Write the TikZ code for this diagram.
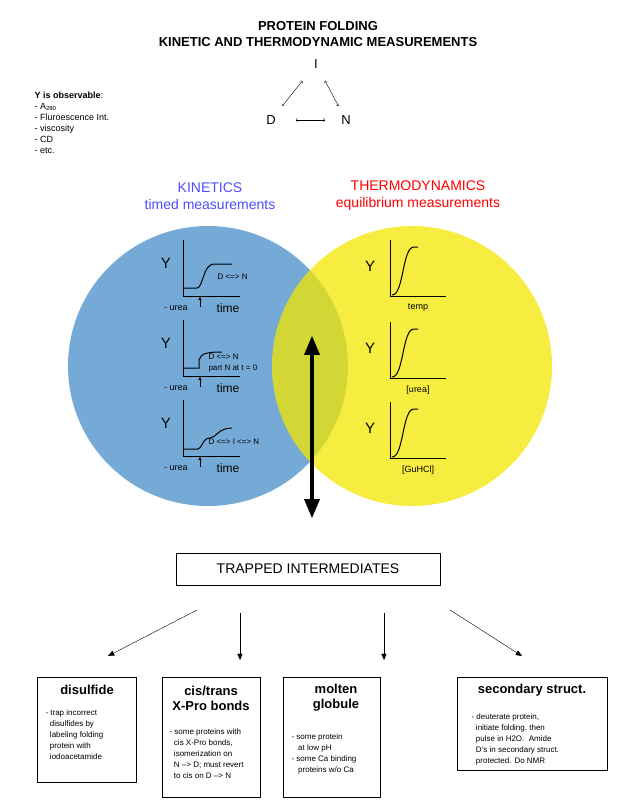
\documentclass[tikz,border=0pt]{standalone}
\usepackage{fontspec}
\setmainfont{Liberation Sans}
\usetikzlibrary{calc}
\usetikzlibrary{positioning}
\usetikzlibrary{arrows}

\begin{document}
\begin{tikzpicture}[
    x = 1pt,
    y = -1pt,
    font = \fontsize{11}{13}\selectfont,
    axisf/.style = {
      line width=1pt
    },
    curvef/.style = {
      line width=1pt
    },
    boxf/.style = {
      rectangle,
      draw=black,
      line width=1pt,
      anchor=north west,
      inner sep=0pt
    },
    small/.style = {
      font=\fontsize{9}{11}\selectfont
    },
    tiny/.style = {
      font=\fontsize{8}{11}\selectfont
    },
    bigY/.style = {
      font=\fontsize{15}{15}\selectfont
    }
  ]
    \useasboundingbox (0,0) rectangle (644,807);

    \node[font=\fontsize{13}{16}\bfseries] (title) at (318,34)
      [align=center] {PROTEIN FOLDING\\KINETIC AND THERMODYNAMIC MEASUREMENTS};

    \node[font=\fontsize{13}{13}\selectfont] (sI) at (316,64) {I};
    \node[font=\fontsize{13}{13}\selectfont] (sD) at (271,120) {D};
    \node[font=\fontsize{13}{13}\selectfont] (sN) at (346,120) {N};
    \draw[<->] ($(sD)!0.33!(sN)$) -- ($(sD)!0.72!(sN)$);
    \draw[<->] ($(sI)!0.3!(sD)$) -- ($(sI)!0.75!(sD)$);
    \draw[<->] ($(sI)!0.3!(sN)$) -- ($(sI)!0.75!(sN)$);

    \node[small, align=left, anchor=north west] (obs) at (31,88)
      {\textbf{Y is observable}:\\- A\textsubscript{280}\\- Fluroescence Int.\\- viscosity\\- CD\\- etc.};

    % circles
    \fill[blue!45!cyan!70!black!60, opacity=0.9] (208,366) circle (140);
    \fill[yellow!90!olive, opacity=0.75] (412,366) circle (140);

    \node[font=\fontsize{14}{17}\selectfont, text=blue!70!white, align=center] (kin) at (210,196)
      {KINETICS\\timed measurements};
    \node[font=\fontsize{14}{17}\selectfont, text=red, align=center] (thermo) at (418,196)
      {THERMODYNAMICS\\equilibrium measurements};

    % kinetic plots
    \foreach \dy/\lab in {0/1, 80/2, 160/3} {
      \begin{scope}[yshift=-\dy]
        \node[bigY] (ky\lab) at (166,263) {Y};
        \draw[axisf] (183,240) -- (183,296) -- (240,296);
        \node[small] (urea\lab) at (176,308) {- urea};
        \node[font=\fontsize{12}{12}\selectfont] (time\lab) at (228,308) {time};
        \draw[-latex] (200,307) -- (200,296);
      \end{scope}
    }
    \draw[curvef] (183,288) -- (197,288) .. controls (203,288) and (203,264) .. (214,264) -- (232,264);
    \node[tiny, anchor=west] (k1) at (214,277) {D <=> N};
    \draw[curvef] (183,368) -- (199,368) -- (199,360) .. controls (201,354) and (205,352) .. (222,352);
    \node[tiny, anchor=west, align=left] (k2) at (205,363) {D <=> N\\part N at t = 0};
    \draw[curvef] (183,449) -- (198,449) .. controls (202,449) and (202,438) .. (210,438)
      .. controls (216,438) and (218,428) .. (232,428);
    \node[tiny, anchor=west] (k3) at (205,442) {D <=> I <=> N};

    % thermodynamic plots
    \foreach \dy/\lab/\txt in {0/1/temp, 82/2/{[urea]}, 162/3/{[GuHCl]}} {
      \begin{scope}[yshift=-\dy]
        \node[bigY] (ty\lab) at (370,266) {Y};
        \draw[axisf] (390,240) -- (390,296) -- (446,296);
        \draw[curvef] (392,295) .. controls (404,295) and (402,247) .. (414,247) -- (418,247);
        \node[small] (tx\lab) at (418,308) {\txt};
      \end{scope}
    }

    \coordinate (top) at (312,342);
    \coordinate (bot) at (312,512);
    \draw[line width=3.5pt, -triangle 45, shorten >=-6pt] (top) -- (bot);
    \draw[line width=3.5pt, -triangle 45, shorten >=-6pt] (bot) -- (top);

    \node[draw, line width=0.8pt, minimum width=264, minimum height=32,
      font=\fontsize{14}{14}\selectfont] (trap) at (308,569) {TRAPPED INTERMEDIATES};

    % boxes
    \node[boxf, minimum width=99, minimum height=105] (b1) at (37,677) {};
    \node[boxf, minimum width=98, minimum height=120] (b2) at (162,677) {};
    \node[boxf, minimum width=97, minimum height=120] (b3) at (283,677) {};
    \node[boxf, minimum width=150, minimum height=93] (b4) at (457,677) {};

    \node[font=\fontsize{13}{15}\bfseries] (h1) at (87,690) {disulfide};
    \node[font=\fontsize{13}{15}\bfseries, align=center] (h2) at (211,698) {cis/trans\\X-Pro bonds};
    \node[font=\fontsize{13}{15}\bfseries, align=center] (h3) at (336,698) {molten\\globule};
    \node[font=\fontsize{13}{15}\bfseries] (h4) at (532,690) {secondary struct.};

    \node[tiny, align=left, anchor=north west] (t1) at (42,706)
      {- trap incorrect\\\ \ disulfides by\\\ \ labeling folding\\\ \ protein with\\\ \ iodoacetamide};
    \node[tiny, align=left, anchor=north west] (t2) at (166,725)
      {- some proteins with\\\ \ cis X-Pro bonds,\\\ \ isomerization on\\\ \ N --> D; must revert\\\ \ to cis on D --> N};
    \node[tiny, align=left, anchor=north west] (t3) at (288,730)
      {- some protein\\\ \ \ at low pH\\- some Ca binding\\\ \ \ proteins w/o Ca};
    \node[tiny, align=left, anchor=north west] (t4) at (468,710)
      {- deuterate protein,\\\ \ initiate folding, then\\\ \ pulse in H2O. \ Amide\\\ \ D's in secondary struct.\\\ \ protected. Do NMR};

    \coordinate (s1) at (197,610); \coordinate (e1) at (108,656);
    \coordinate (s2) at (240,613); \coordinate (e2) at (240,660);
    \coordinate (s3) at (384,613); \coordinate (e3) at (384,660);
    \coordinate (s4) at (450,610); \coordinate (e4) at (522,656);
    \foreach \i in {1,...,4} {
      \draw[-triangle 45] (s\i) -- (e\i);
    }
  \end{tikzpicture}
\end{document}
